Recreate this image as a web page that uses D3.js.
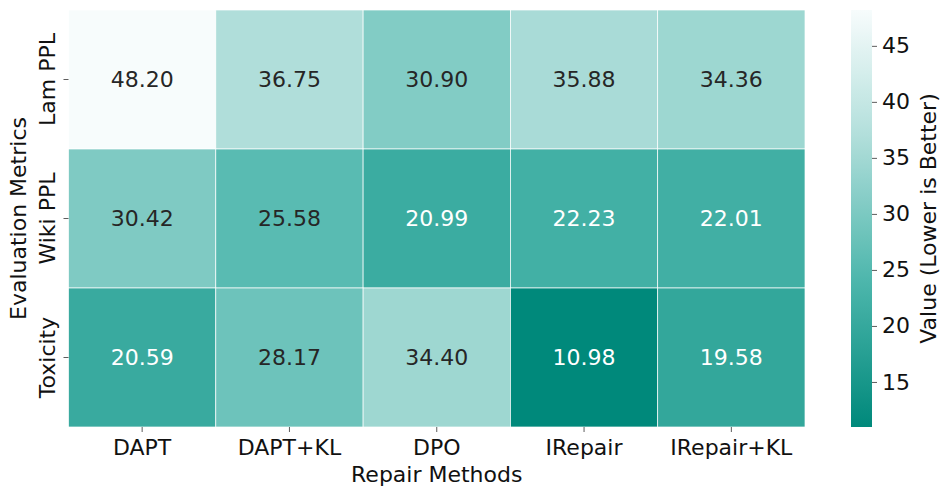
<!DOCTYPE html>
<html><head><meta charset="utf-8">
<script src="https://cdn.jsdelivr.net/npm/d3@7"></script>
<style>body{margin:0;background:#fff}svg{display:block}text{font-family:"DejaVu Sans",sans-serif}</style>
</head><body>
<svg id="c" width="947" height="496"></svg>
<script>
const methods = ["DAPT","DAPT+KL","DPO","IRepair","IRepair+KL"];
const metrics = ["Lam PPL","Wiki PPL","Toxicity"];
const lamPPL  = [48.20, 36.75, 30.90, 35.88, 34.36];
const wikiPPL = [30.42, 25.58, 20.99, 22.23, 22.01];
const toxicity= [20.59, 28.17, 34.40, 10.98, 19.58];
const cbTicks = [15,20,25,30,35,40,45];
const rows = [lamPPL, wikiPPL, toxicity];

const svg = d3.select("#c");
const L=68.5, R=805, T=10, B=427;
const x = d3.scaleBand().domain(methods).range([L,R]);
const y = d3.scaleBand().domain(metrics).range([T,B]);
const all = rows.flat();
const vmin = d3.min(all), vmax = d3.max(all);
const stopT = [0, 0.35, 0.7, 1];
const stopC = ["#00897B","#4DB6AC","#B2DFDB","#F7FCFC"];
const cmap = d3.scaleLinear().domain(stopT).range(stopC).interpolate(d3.interpolateRgb);
const interp = t => cmap(t);
const color = v => interp((v-vmin)/(vmax-vmin));

const cells = [];
rows.forEach((r,i)=>r.forEach((v,j)=>cells.push({m:metrics[i],k:methods[j],v})));
svg.selectAll("rect.cell").data(cells).join("rect")
  .attr("x",d=>x(d.k)).attr("y",d=>y(d.m))
  .attr("width",x.bandwidth()).attr("height",y.bandwidth())
  .attr("fill",d=>color(d.v)).attr("stroke","#fff").attr("stroke-width",0.7);

function lum(c){const r=d3.rgb(c);const f=u=>{u/=255;return u<=0.03928?u/12.92:Math.pow((u+0.055)/1.055,2.4)};return 0.2126*f(r.r)+0.7152*f(r.g)+0.0722*f(r.b);}
svg.selectAll("text.ann").data(cells).join("text")
  .attr("x",d=>x(d.k)+x.bandwidth()/2).attr("y",d=>y(d.m)+y.bandwidth()/2)
  .attr("text-anchor","middle").attr("dominant-baseline","central")
  .attr("font-size",22)
  .attr("fill",d=>lum(color(d.v))>0.38?"#262626":"#ffffff")
  .text(d=>d.v.toFixed(2));

// x axis
const xa = svg.append("g").attr("transform",`translate(0,${B})`)
  .call(d3.axisBottom(x).tickSize(5).tickSizeOuter(0).tickPadding(7));
xa.select(".domain").remove();
xa.selectAll("line").attr("stroke","#333").attr("stroke-width",0.8);
xa.selectAll("text").attr("font-size",22).attr("fill","#111").attr("font-family","DejaVu Sans");
svg.append("text").attr("x",(L+R)/2).attr("y",482).attr("text-anchor","middle")
  .attr("font-size",22).attr("fill","#111").text("Repair Methods");

// y axis
const ya = svg.append("g").attr("transform",`translate(${L},0)`)
  .call(d3.axisLeft(y).tickSize(5).tickSizeOuter(0).tickFormat(()=>""));
ya.select(".domain").remove();
ya.selectAll("line").attr("stroke","#333").attr("stroke-width",0.8);
svg.selectAll("text.ylab").data(metrics).join("text")
  .attr("transform",d=>`translate(47,${y(d)+y.bandwidth()/2}) rotate(-90)`)
  .attr("text-anchor","middle").attr("dominant-baseline","central")
  .attr("font-size",22).attr("fill","#111").text(d=>d);
svg.append("text").attr("transform",`translate(18,${(T+B)/2}) rotate(-90)`)
  .attr("text-anchor","middle").attr("dominant-baseline","central")
  .attr("font-size",22).attr("fill","#111").text("Evaluation Metrics");

// colorbar
const cbX=851, cbW=21;
const cy = d3.scaleLinear().domain([vmin,vmax]).range([B,T]);
const defs = svg.append("defs");
const grad = defs.append("linearGradient").attr("id","g").attr("x1",0).attr("y1",1).attr("x2",0).attr("y2",0);
d3.range(0,1.0001,0.05).forEach(t=>grad.append("stop").attr("offset",t).attr("stop-color",interp(t)));
svg.append("rect").attr("x",cbX).attr("y",T).attr("width",cbW).attr("height",B-T).attr("fill","url(#g)");
const ca = svg.append("g").attr("transform",`translate(${cbX+cbW},0)`)
  .call(d3.axisRight(cy).tickValues(cbTicks).tickSize(5).tickPadding(5));
ca.select(".domain").remove();
ca.selectAll("line").attr("stroke","#333").attr("stroke-width",0.8);
ca.selectAll("text").attr("font-size",22).attr("fill","#111").attr("font-family","DejaVu Sans");
svg.append("text").attr("transform",`translate(928,${(T+B)/2}) rotate(-90)`)
  .attr("text-anchor","middle").attr("dominant-baseline","central")
  .attr("font-size",22).attr("fill","#111").text("Value (Lower is Better)");
</script>
</body></html>
